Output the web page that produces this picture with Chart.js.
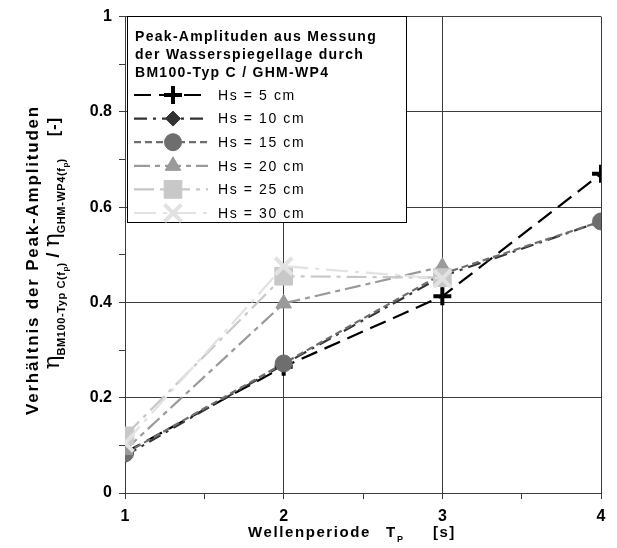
<!DOCTYPE html>
<html lang="de">
<head>
<meta charset="UTF-8" />
<title>Peak-Amplituden</title>
<script src="https://cdn.jsdelivr.net/npm/chart.js"></script>
<style>
  html, body { margin: 0; padding: 0; background: #fff; }
  canvas { display: block; }
</style>
</head>
<body>
<canvas id="chart" width="617" height="548"></canvas>
<script>
  // Wellenperiode Tp [s]
  const periods = [1, 2, 3, 4];
  const labels = ["Hs = 5 cm", "Hs = 10 cm", "Hs = 15 cm", "Hs = 20 cm", "Hs = 25 cm", "Hs = 30 cm"];

  // Verhältnis der Peak-Amplituden je Hs
  const hs5  = [0.085, 0.265, 0.413, 0.67];
  const hs10 = [0.078, 0.27, 0.455, 0.57];
  const hs15 = [0.083, 0.272, 0.46, 0.57];
  const hs20 = [0.09, 0.398, 0.475];
  const hs25 = [0.12, 0.455, 0.452];
  const hs30 = [0.105, 0.476, 0.45];

  const xTicks = [1, 2, 3, 4];
  const yTicks = [0, 0.2, 0.4, 0.6, 0.8, 1];

  const toPoints = vals => vals.map((v, i) => ({ x: periods[i], y: v }));

  const styles = [
    { color: "#000000", dash: [17, 8], point: "cross", radius: 9, pw: 4 },
    { color: "#333333", dash: [13, 6, 3, 6], point: "rectRot", radius: 7.5, pw: 1 },
    { color: "#6e6e6e", dash: [7, 4], point: "circle", radius: 8.5, pw: 1 },
    { color: "#9a9a9a", dash: [16, 5, 5, 5], point: "triangle", radius: 9, pw: 1 },
    { color: "#c8c8c8", dash: [20, 6, 4, 6], point: "rect", radius: 12.5, pw: 1 },
    { color: "#e2e2e2", dash: [22, 7, 4, 7], point: "crossRot", radius: 12, pw: 4 }
  ];
  const series = [hs5, hs10, hs15, hs20, hs25, hs30];

  // later series on top, as in the original
  const datasets = series.map((vals, i) => ({
    label: labels[i],
    data: toPoints(vals),
    borderColor: styles[i].color,
    backgroundColor: styles[i].color,
    borderWidth: 2.2,
    borderDash: styles[i].dash,
    pointStyle: styles[i].point,
    pointRadius: styles[i].radius,
    pointBorderWidth: styles[i].pw,
    pointBackgroundColor: styles[i].color,
    pointBorderColor: styles[i].color,
    tension: 0,
    order: series.length - i
  }));

  // legend box drawn inside the plot area
  const legendBox = {
    id: "legendBox",
    afterDraw(chart) {
      const ctx = chart.ctx;
      const x0 = 127, y0 = 16, w = 279, h = 206;
      ctx.save();
      ctx.fillStyle = "#fff";
      ctx.fillRect(x0, y0, w, h);
      ctx.strokeStyle = "#000";
      ctx.lineWidth = 1;
      ctx.strokeRect(x0 + 0.5, y0 + 0.5, w, h);

      ctx.fillStyle = "#000";
      ctx.font = "bold 14px Arial, 'Liberation Sans', sans-serif";
      ctx.letterSpacing = "1.3px";
      ctx.textBaseline = "alphabetic";
      ctx.textAlign = "left";
      ["Peak-Amplituden aus Messung", "der Wasserspiegellage durch", "BM100-Typ C / GHM-WP4"]
        .forEach((t, i) => ctx.fillText(t, 135, 41 + i * 18));

      ctx.font = "14px Arial, 'Liberation Sans', sans-serif";
      ctx.letterSpacing = "1.6px";
      ctx.textBaseline = "middle";
      chart.data.datasets.forEach((ds, i) => {
        const cy = 95 + i * 23.6;
        ctx.save();
        ctx.strokeStyle = ds.borderColor;
        ctx.lineWidth = 2.2;
        ctx.setLineDash(ds.borderDash);
        ctx.beginPath();
        ctx.moveTo(134, cy);
        ctx.lineTo(208, cy);
        ctx.stroke();
        ctx.setLineDash([]);
        ctx.fillStyle = ds.pointBackgroundColor;
        ctx.strokeStyle = ds.pointBorderColor;
        ctx.lineWidth = ds.pointBorderWidth;
        Chart.helpers.drawPoint(ctx, { pointStyle: ds.pointStyle, radius: ds.pointRadius, rotation: 0, borderWidth: ds.pointBorderWidth }, 173, cy);
        ctx.restore();
        ctx.fillStyle = "#000";
        ctx.fillText(ds.label, 218, cy + 1);
      });
      ctx.restore();
    }
  };

  // draw a run of text pieces (with sub-/normal baselines) along one line
  function drawRuns(ctx, runs, startX, baseY) {
    let x = startX;
    runs.forEach(r => {
      ctx.font = r.font;
      ctx.letterSpacing = r.ls || "0px";
      ctx.fillText(r.text, x, baseY + (r.dy || 0));
      x += ctx.measureText(r.text).width;
    });
    return x - startX;
  }
  function runsWidth(ctx, runs) {
    let w = 0;
    runs.forEach(r => {
      ctx.font = r.font;
      ctx.letterSpacing = r.ls || "0px";
      w += ctx.measureText(r.text).width;
    });
    return w;
  }

  const axisTitles = {
    id: "axisTitles",
    afterDraw(chart) {
      const ctx = chart.ctx;
      ctx.save();
      ctx.fillStyle = "#000";
      ctx.textAlign = "left";
      ctx.textBaseline = "alphabetic";

      // x axis title
      const B = "bold 15px Arial, 'Liberation Sans', sans-serif";
      drawRuns(ctx, [{ text: "Wellenperiode", font: B, ls: "1.6px" }], 248, 537);
      drawRuns(ctx, [{ text: "T", font: B }], 386, 537);
      drawRuns(ctx, [{ text: "P", font: "bold 9px Arial, sans-serif" }], 397, 542);
      drawRuns(ctx, [{ text: "[s]", font: B, ls: "1.5px" }], 433, 537);

      // y axis title, line 1
      ctx.save();
      ctx.translate(38, 260);
      ctx.rotate(-Math.PI / 2);
      const l1 = [{ text: "Verhältnis der Peak-Amplituden", font: "bold 17px Arial, 'Liberation Sans', sans-serif", ls: "1.8px" }];
      drawRuns(ctx, l1, -runsWidth(ctx, l1) / 2, 0);
      ctx.restore();

      // y axis title, line 2
      ctx.save();
      ctx.translate(59, 243);
      ctx.rotate(-Math.PI / 2);
      const eta = "23px 'DejaVu Serif', serif";
      const sub = "bold 11px Arial, 'Liberation Sans', sans-serif";
      const subs = "bold 8px Arial, 'Liberation Sans', sans-serif";
      const l2 = [
        { text: "\u03B7", font: eta },
        { text: "BM100-Typ C(f", font: sub, dy: 6, ls: "0.6px" },
        { text: "p", font: subs, dy: 9 },
        { text: ")", font: sub, dy: 6 },
        { text: " / ", font: "bold 19px Arial, sans-serif" },
        { text: "\u03B7", font: eta },
        { text: "GHM-WP4(f", font: sub, dy: 6, ls: "0.6px" },
        { text: "p", font: subs, dy: 9 },
        { text: ")", font: sub, dy: 6 },
        { text: "    [-]", font: "bold 16px Arial, 'Liberation Sans', sans-serif", ls: "1.2px" }
      ];
      drawRuns(ctx, l2, -runsWidth(ctx, l2) / 2, 0);
      ctx.restore();

      ctx.restore();
    }
  };

  const tickFont = { family: "Arial, 'Liberation Sans', sans-serif", size: 16, weight: "bold" };
  const gridCol = "#3c3c3c";
  const isMajor = (list, v) => list.some(t => Math.abs(t - v) < 1e-6);

  new Chart(document.getElementById("chart"), {
    type: "line",
    data: { datasets },
    plugins: [legendBox, axisTitles],
    options: {
      responsive: false,
      animation: false,
      devicePixelRatio: 1,
      layout: { padding: { top: 16, right: 16, left: 0, bottom: 0 } },
      plugins: { legend: { display: false }, tooltip: { enabled: false } },
      scales: {
        x: {
          type: "linear",
          min: 1, max: 4,
          afterFit: s => { s.height = 55; },
          ticks: {
            stepSize: 0.5,
            color: "#000",
            font: tickFont,
            padding: 8,
            maxRotation: 0,
            callback: v => isMajor(xTicks, v) ? String(v) : ""
          },
          grid: {
            color: c => isMajor(xTicks, c.tick.value) ? gridCol : "rgba(0,0,0,0)",
            tickColor: gridCol,
            tickLength: 6,
            lineWidth: 1
          },
          border: { color: gridCol, width: 1 }
        },
        y: {
          min: 0, max: 1,
          afterFit: s => { s.width = 125; },
          ticks: {
            stepSize: 0.1,
            color: "#000",
            font: tickFont,
            padding: 7,
            callback: v => {
              if (!isMajor(yTicks, v)) return "";
              const r = Math.round(v * 10) / 10;
              return (r === 0 || r === 1) ? String(r) : r.toFixed(1);
            }
          },
          grid: {
            color: c => isMajor(yTicks, c.tick.value) ? gridCol : "rgba(0,0,0,0)",
            tickColor: gridCol,
            tickLength: 6,
            lineWidth: 1
          },
          border: { color: gridCol, width: 1 }
        }
      }
    }
  });
</script>
</body>
</html>
